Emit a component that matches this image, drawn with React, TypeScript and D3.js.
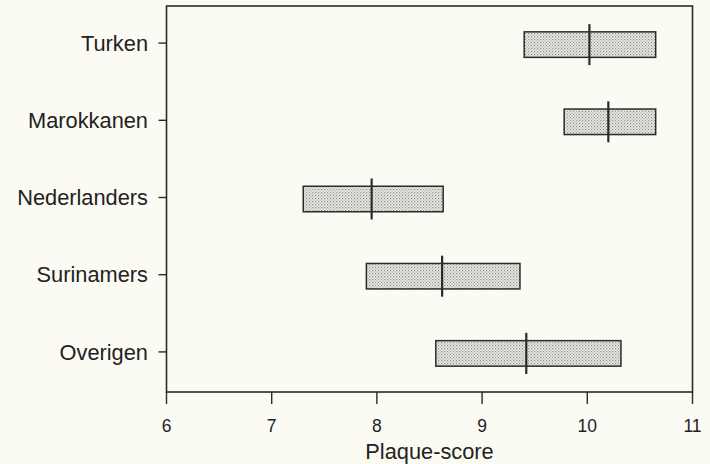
import React from "react";
import * as d3 from "d3";

const categories = ["Turken", "Marokkanen", "Nederlanders", "Surinamers", "Overigen"];
const lowValues = [9.4, 9.78, 7.3, 7.9, 8.56];
const highValues = [10.65, 10.65, 8.63, 9.36, 10.32];
const medianValues = [10.02, 10.2, 7.95, 8.62, 9.42];
const xTicks = [6, 7, 8, 9, 10, 11];
const xLabel = "Plaque-score";

const W = 710;
const H = 464;
const left = 166.5;
const right = 692.5;
const top = 6;
const bottom = 392;

export default function App() {
  const x = d3.scaleLinear().domain([6, 11]).range([left, right]);
  const y = d3.scalePoint<string>().domain(categories).range([top, bottom]).padding(0.5);
  const barH = 25.5;
  const medH = 41;
  const ink = "#2b2b2b";
  const font = "'Liberation Sans', Arial, Helvetica, sans-serif";

  return (
    <svg
      width={W}
      height={H}
      viewBox={`0 0 ${W} ${H}`}
      style={{ position: "absolute", left: 0, top: 0, display: "block" }}
    >
      <defs>
        <pattern id="stipple" width="3" height="3" patternUnits="userSpaceOnUse">
          <rect width="3" height="3" fill="#ebebe6" />
          <rect x="0" y="0" width="1.2" height="1.2" fill="#8e8e8a" />
          <rect x="1.5" y="1.5" width="1.2" height="1.2" fill="#a8a8a4" />
        </pattern>
      </defs>
      <rect width={W} height={H} fill="#fbfbf4" />

      {/* plot frame */}
      <rect
        x={left}
        y={top}
        width={right - left}
        height={bottom - top}
        fill="none"
        stroke={ink}
        strokeWidth={1.6}
      />

      {/* x axis ticks and labels */}
      {xTicks.map((t) => (
        <g key={t}>
          <line x1={x(t)} x2={x(t)} y1={bottom} y2={bottom + 12} stroke={ink} strokeWidth={1.4} />
          <text
            x={x(t)}
            y={431.5}
            textAnchor="middle"
            fontFamily={font}
            fontSize={17.5}
            fill="#222"
          >
            {t}
          </text>
        </g>
      ))}
      <text
        x={(left + right) / 2}
        y={459}
        textAnchor="middle"
        fontFamily={font}
        fontSize={21.8}
        fill="#222"
      >
        {xLabel}
      </text>

      {/* y axis ticks and labels */}
      {categories.map((c) => (
        <g key={c}>
          <line x1={left - 8} x2={left} y1={(y(c) as number) - 1.5} y2={(y(c) as number) - 1.5} stroke={ink} strokeWidth={1.4} />
          <text
            x={148}
            y={(y(c) as number) - 1.5}
            dy="0.35em"
            textAnchor="end"
            fontFamily={font}
            fontSize={21.8}
            fill="#222"
          >
            {c}
          </text>
        </g>
      ))}

      {/* bars */}
      {categories.map((c, i) => {
        const cy = y(c) as number;
        return (
          <g key={c}>
            <rect
              x={x(lowValues[i])}
              y={cy - barH / 2}
              width={x(highValues[i]) - x(lowValues[i])}
              height={barH}
              fill="url(#stipple)"
              stroke={ink}
              strokeWidth={1.5}
            />
            <line
              x1={x(medianValues[i])}
              x2={x(medianValues[i])}
              y1={cy - medH / 2}
              y2={cy + medH / 2}
              stroke={ink}
              strokeWidth={2.2}
            />
          </g>
        );
      })}
    </svg>
  );
}
